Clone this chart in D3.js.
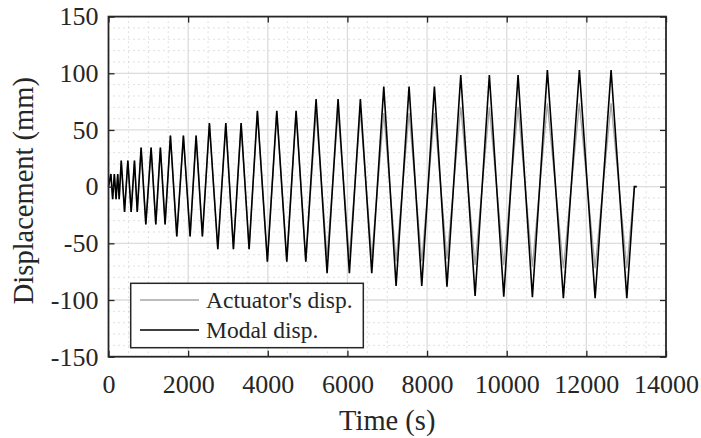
<!DOCTYPE html>
<html>
<head>
<meta charset="utf-8">
<script src="https://cdn.jsdelivr.net/npm/d3@7"></script>
<style>
  body { margin: 0; background: #fff; }
  svg { display: block; }
  text { font-family: "Liberation Serif", "Times New Roman", serif; fill: #262626; }
</style>
</head>
<body>
<svg id="chart" width="701" height="438"></svg>
<script>
// turning points of the loading history (s)
const timeSec = [0,
  60, 104, 147, 190, 232, 268,
  320, 403, 486, 569, 652, 722,
  819, 937, 1070, 1188, 1303, 1421,
  1555, 1715, 1881, 2049, 2200, 2358,
  2534, 2745, 2946, 3137, 3330, 3531,
  3739, 3990, 4226, 4477, 4711, 4954,
  5213, 5489, 5765, 6049, 6325, 6611,
  6913, 7222, 7548, 7867, 8184, 8500,
  8846, 9206, 9564, 9926, 10285, 10645,
  11021, 11423, 11825, 12220, 12621, 13016,
  13206, 13266]

// modal displacement (mm)
const modalDisp = [0,
  11.2, -11, 11.2, -11, 11.2, -11,
  23, -22.3, 23, -22.3, 23, -22.3,
  34.5, -33.3, 34.5, -33.3, 34.5, -33.3,
  45, -44, 45, -44, 45, -44,
  56, -55.2, 56, -55.2, 56, -55.2,
  66.8, -66.1, 66.8, -66.1, 66.8, -66.1,
  77.3, -76.4, 77.3, -76.4, 77.3, -76.4,
  88.2, -87.6, 88.2, -87.6, 88.2, -88.2,
  98.5, -96.4, 98.5, -97, 98.5, -97.5,
  102.9, -98.4, 102.9, -98.4, 102.9, -98.4,
  0, 0]

// actuator's displacement (mm)
const actuatorDisp = [0,
  11.2, -11, 11.2, -11, 11.2, -11,
  23, -22.3, 23, -22.3, 23, -22.3,
  34.5, -33.3, 34.5, -33.3, 34.5, -33.3,
  45, -44, 45, -44, 45, -44,
  56, -55.2, 56, -55.2, 56, -55.2,
  66.8, -66.1, 66.8, -66.1, 66.8, -66.1,
  66, -62, 66, -62, 66, -62,
  65, -66, 65, -66, 65, -64,
  70.5, -69, 70, -69, 70.5, -70.5,
  73.5, -72, 73.5, -72, 73.5, -72,
  0, 0]

const xTicks = [0, 2000, 4000, 6000, 8000, 10000, 12000, 14000]
const yTicks = [-150, -100, -50, 0, 50, 100, 150]
const legendLabels = ["Actuator's disp.", 'Modal disp.']

const svg = d3.select('#chart')
const pLeft = 108.5, pRight = 666, pTop = 16.6, pBottom = 356.7
const axisColor = '#262626'
const serif = '"Liberation Serif", "Times New Roman", serif'

const x = d3.scaleLinear().domain([0, 14000]).range([pLeft, pRight])
const y = d3.scaleLinear().domain([-150, 150]).range([pBottom, pTop])

// minor grid
const grid = svg.append('g')
grid.selectAll('.mx')
    .data(d3.range(500, 14000, 500).filter(d => d % 2000 !== 0))
    .enter().append('line')
    .attr('x1', d => x(d)).attr('x2', d => x(d))
    .attr('y1', pTop).attr('y2', pBottom)
    .attr('stroke', '#c2c2c2').attr('stroke-width', 1)
    .attr('stroke-dasharray', '1,4')
grid.selectAll('.my')
    .data(d3.range(-140, 150, 10).filter(d => d % 50 !== 0))
    .enter().append('line')
    .attr('x1', pLeft).attr('x2', pRight)
    .attr('y1', d => y(d)).attr('y2', d => y(d))
    .attr('stroke', '#c2c2c2').attr('stroke-width', 1)
    .attr('stroke-dasharray', '1,4')

// major grid
grid.selectAll('.gx')
    .data(xTicks.slice(1, -1))
    .enter().append('line')
    .attr('x1', d => x(d)).attr('x2', d => x(d))
    .attr('y1', pTop).attr('y2', pBottom)
    .attr('stroke', '#dcdcdc').attr('stroke-width', 1.3)
grid.selectAll('.gy')
    .data(yTicks.slice(1, -1))
    .enter().append('line')
    .attr('x1', pLeft).attr('x2', pRight)
    .attr('y1', d => y(d)).attr('y2', d => y(d))
    .attr('stroke', '#dcdcdc').attr('stroke-width', 1.3)

// series
const line = vals => d3.line()
    .x((d, i) => x(timeSec[i]))
    .y(d => y(d))(vals)

svg.append('path')
    .attr('d', line(actuatorDisp))
    .attr('fill', 'none').attr('stroke', '#a6a6a6').attr('stroke-width', 1.3)
svg.append('path')
    .attr('d', line(modalDisp))
    .attr('fill', 'none').attr('stroke', '#000').attr('stroke-width', 1.6)

// axes
const fmt = d => String(d)
const styleAxis = g => {
    g.attr('font-family', serif).attr('font-size', 26)
    g.select('.domain').remove()
    g.selectAll('.tick line').attr('stroke', axisColor).attr('stroke-width', 1.3)
    g.selectAll('.tick text')
        .attr('fill', axisColor)
        .style('font-family', serif)
        .style('font-size', '26px')
}

svg.append('g')
    .attr('transform', `translate(0,${pBottom})`)
    .call(d3.axisBottom(x).tickValues(xTicks).tickFormat(fmt).tickSize(-6).tickPadding(18))
    .call(styleAxis)
svg.append('g')
    .attr('transform', `translate(0,${pTop})`)
    .call(d3.axisTop(x).tickValues(xTicks).tickFormat('').tickSize(-6))
    .call(styleAxis)
svg.append('g')
    .attr('transform', `translate(${pLeft},0)`)
    .call(d3.axisLeft(y).tickValues(yTicks).tickFormat(fmt).tickSize(-6).tickPadding(10))
    .call(styleAxis)
svg.append('g')
    .attr('transform', `translate(${pRight},0)`)
    .call(d3.axisRight(y).tickValues(yTicks).tickFormat('').tickSize(-6))
    .call(styleAxis)

svg.append('rect')
    .attr('x', pLeft).attr('y', pTop)
    .attr('width', pRight - pLeft).attr('height', pBottom - pTop)
    .attr('fill', 'none').attr('stroke', axisColor).attr('stroke-width', 1.8)

// axis labels
svg.append('text')
    .attr('x', (pLeft + pRight) / 2).attr('y', 430)
    .attr('text-anchor', 'middle')
    .style('font-size', '28.5px')
    .text('Time (s)')
svg.append('text')
    .attr('transform', `translate(33,${(pTop + pBottom) / 2 + 4}) rotate(-90)`)
    .attr('text-anchor', 'middle')
    .style('font-size', '28.5px')
    .text('Displacement (mm)')

// legend
const legend = svg.append('g')
legend.append('rect')
    .attr('x', 130.7).attr('y', 283.3)
    .attr('width', 232.6).attr('height', 64.4)
    .attr('fill', '#fff').attr('stroke', axisColor).attr('stroke-width', 1.5)
const legendColors = ['#a6a6a6', '#000']
legendLabels.forEach((lab, i) => {
    const ly = 300 + i * 30
    legend.append('line')
        .attr('x1', 140).attr('x2', 199)
        .attr('y1', ly).attr('y2', ly)
        .attr('stroke', legendColors[i]).attr('stroke-width', i ? 1.6 : 1.3)
    legend.append('text')
        .attr('x', 206).attr('y', ly + 8)
        .style('font-size', '23.5px')
        .text(lab)
})
</script>
</body>
</html>
